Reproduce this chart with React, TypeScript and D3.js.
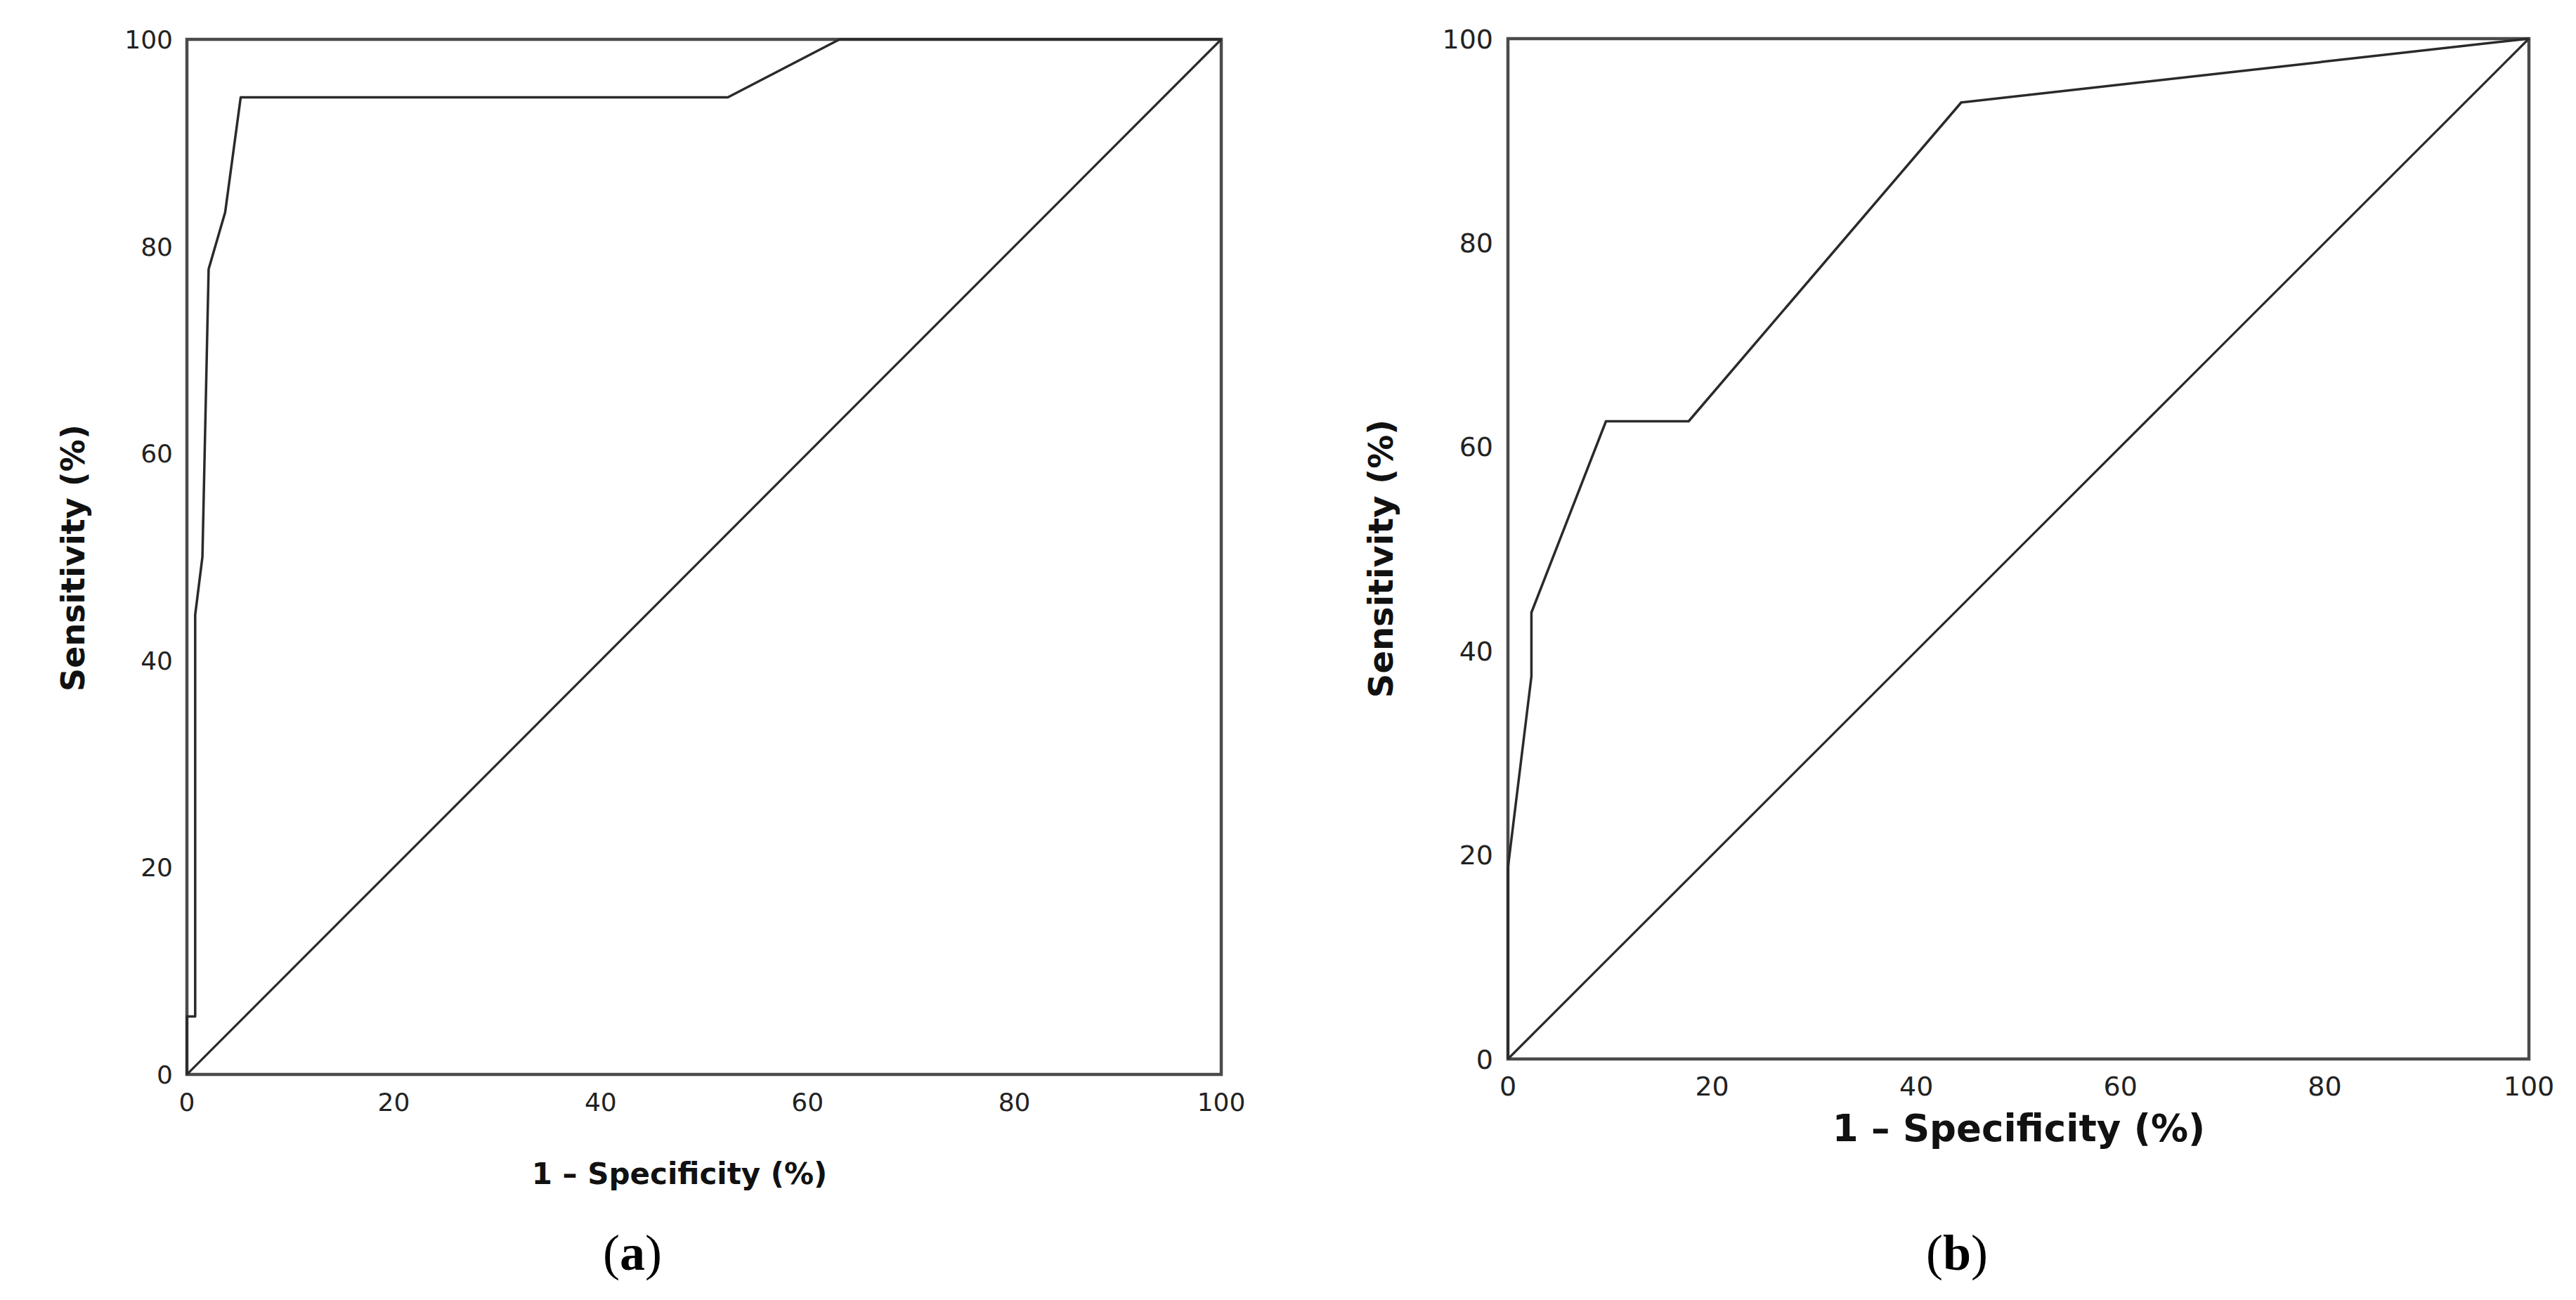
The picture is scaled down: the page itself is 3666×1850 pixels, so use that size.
import React, { useEffect, useRef } from 'react';
import * as d3 from 'd3';

const WIDTH = 3666;
const HEIGHT = 1850;

// tick values shared by both axes of both panels
const ticks = [0, 20, 40, 60, 80, 100];

// panel (a): 1 - specificity (%) and sensitivity (%)
const fprA = [0, 0, 0.8, 0.8, 1.5, 2.1, 3.7, 5.2, 52.3, 63.1, 100];
const tprA = [0, 5.6, 5.6, 44.4, 50, 77.8, 83.3, 94.4, 94.4, 100, 100];

// panel (b)
const fprB = [0, 0, 2.3, 2.3, 9.6, 17.7, 44.4, 100];
const tprB = [0, 18.75, 37.5, 43.75, 62.5, 62.5, 93.75, 100];

const reference = [0, 100];

const xTitle = '1 \u2013 Specificity (%)';
const yTitle = 'Sensitivity (%)';
const panelLabels = ['a', 'b'];

const panels = [
  {
    fpr: fprA, tpr: tprA, label: panelLabels[0],
    left: 266, right: 1738, top: 56, bottom: 1529,
    tickSize: 36, tickGapY: 20, tickGapX: 52,
    xTitleX: 967, xTitleY: 1685, xTitleSize: 42,
    yTitleX: 120, yTitleY: 794, yTitleSize: 46,
    labelX: 900
  },
  {
    fpr: fprB, tpr: tprB, label: panelLabels[1],
    left: 2146, right: 3599, top: 55, bottom: 1507,
    tickSize: 38, tickGapY: 21, tickGapX: 52,
    xTitleX: 2873, xTitleY: 1624, xTitleSize: 53,
    yTitleX: 1982, yTitleY: 795, yTitleSize: 48,
    labelX: 2785
  }
];

export default function App() {
  const root = useRef<SVGSVGElement>(null);

  useEffect(() => {
    const svg = d3.select(root.current);
    svg.selectAll('*').remove();

    panels.forEach((p) => {
      const x = d3.scaleLinear().domain([0, 100]).range([p.left, p.right]);
      const y = d3.scaleLinear().domain([0, 100]).range([p.bottom, p.top]);
      const g = svg.append('g');

      // frame
      g.append('rect')
        .attr('x', p.left)
        .attr('y', p.top)
        .attr('width', p.right - p.left)
        .attr('height', p.bottom - p.top)
        .attr('fill', 'none')
        .attr('stroke', '#4a4a4a')
        .attr('stroke-width', 4.5);

      const line = d3.line<[number, number]>()
        .x((d) => x(d[0]))
        .y((d) => y(d[1]));

      // chance diagonal
      g.append('path')
        .attr('d', line(reference.map((v) => [v, v] as [number, number])))
        .attr('fill', 'none')
        .attr('stroke', '#2a2a2a')
        .attr('stroke-width', 3.2);

      // ROC curve
      g.append('path')
        .attr('d', line(p.fpr.map((v, i) => [v, p.tpr[i]] as [number, number])))
        .attr('fill', 'none')
        .attr('stroke', '#2a2a2a')
        .attr('stroke-width', 3.5)
        .attr('stroke-linejoin', 'round');

      // tick labels
      g.selectAll('.ytick')
        .data(ticks)
        .enter().append('text')
        .attr('x', p.left - p.tickGapY)
        .attr('y', (d) => y(d))
        .attr('dy', '0.36em')
        .attr('text-anchor', 'end')
        .attr('font-family', 'DejaVu Sans')
        .attr('font-size', p.tickSize)
        .attr('fill', '#222')
        .text((d) => d);

      g.selectAll('.xtick')
        .data(ticks)
        .enter().append('text')
        .attr('x', (d) => x(d))
        .attr('y', p.bottom + p.tickGapX)
        .attr('text-anchor', 'middle')
        .attr('font-family', 'DejaVu Sans')
        .attr('font-size', p.tickSize)
        .attr('fill', '#222')
        .text((d) => d);

      // axis titles
      g.append('text')
        .attr('x', p.xTitleX)
        .attr('y', p.xTitleY)
        .attr('text-anchor', 'middle')
        .attr('font-family', 'DejaVu Sans')
        .attr('font-weight', 'bold')
        .attr('font-size', p.xTitleSize)
        .attr('fill', '#111')
        .text(xTitle);

      g.append('text')
        .attr('transform', `translate(${p.yTitleX}, ${p.yTitleY}) rotate(-90)`)
        .attr('text-anchor', 'middle')
        .attr('font-family', 'DejaVu Sans')
        .attr('font-weight', 'bold')
        .attr('font-size', p.yTitleSize)
        .attr('fill', '#111')
        .text(yTitle);

      // panel label, e.g. (a)
      const lab = g.append('text')
        .attr('x', p.labelX)
        .attr('y', 1807)
        .attr('text-anchor', 'middle')
        .attr('font-family', 'Liberation Serif')
        .attr('font-size', 72)
        .attr('fill', '#000');
      lab.append('tspan').text('(');
      lab.append('tspan').attr('font-weight', 'bold').text(p.label);
      lab.append('tspan').text(')');
    });
  }, []);

  return (
    <svg
      ref={root}
      width={WIDTH}
      height={HEIGHT}
      style={{ position: 'absolute', left: 0, top: 0, background: '#fff' }}
    />
  );
}
